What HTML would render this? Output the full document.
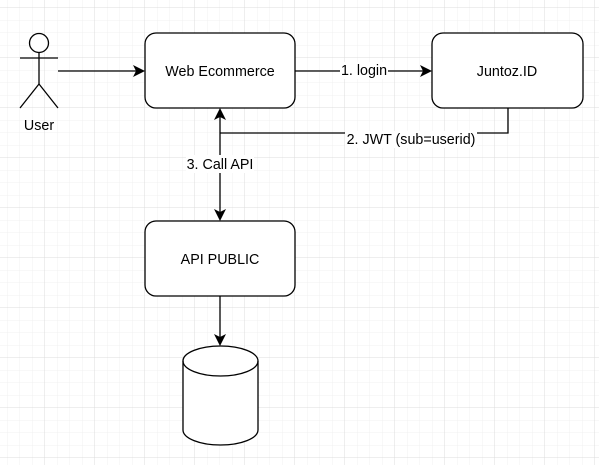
<!DOCTYPE html>
<html><head><meta charset="utf-8"><style>
html,body{margin:0;padding:0;background:#fff;}
svg{display:block;}
text{font-family:"Liberation Sans",Arial,sans-serif;font-size:14.3px;fill:#000;}
</style></head><body>
<svg width="599" height="465" viewBox="0 0 599 465" xmlns="http://www.w3.org/2000/svg">
<defs>
<pattern id="minor" width="12.5" height="12.5" patternUnits="userSpaceOnUse" x="-5" y="-4.5">
<path d="M12.5 0V12.5M0 12.5H12.5" stroke="#f0f0f0" stroke-width="1" fill="none"/>
</pattern>
<pattern id="major" width="50" height="50" patternUnits="userSpaceOnUse" x="-5" y="-42">
<path d="M50 0V50M0 50H50" stroke="#dcdcdc" stroke-width="1" fill="none"/>
</pattern>
</defs>
<rect width="599" height="465" fill="url(#minor)"/>
<rect width="599" height="465" fill="url(#major)"/>
<g stroke="#000" stroke-width="1.3" fill="none">
<circle cx="39" cy="43" r="9.5" fill="#fff"/>
<line x1="39" y1="52.5" x2="39" y2="84"/>
<line x1="20" y1="58" x2="58" y2="58"/>
<line x1="39" y1="84" x2="20" y2="108"/>
<line x1="39" y1="84" x2="58" y2="108"/>
<rect x="145" y="33" width="150" height="75" rx="11" fill="#fff"/>
<rect x="432" y="33" width="151" height="75" rx="11" fill="#fff"/>
<rect x="145" y="221" width="150" height="75" rx="11" fill="#fff"/>
<path d="M183 361 A37.5 15 0 0 1 258 361 V430 A37.5 15 0 0 1 183 430 Z" fill="#fff"/>
<path d="M183 361 A37.5 15 0 0 0 258 361"/>
<line x1="58" y1="71" x2="136" y2="71"/>
<line x1="295" y1="71" x2="423" y2="71"/>
<polyline points="508,108 508,133 220,133"/>
<line x1="220" y1="117" x2="220" y2="212"/>
<line x1="220" y1="296" x2="220" y2="337"/>
</g>
<g fill="#000">
<path d="M145 71 L133 65 L136 71 L133 77 Z"/>
<path d="M432 71 L420 65 L423 71 L420 77 Z"/>
<path d="M220 108 L214 120 L220 117 L226 120 Z"/>
<path d="M220 221 L214 209 L220 212 L226 209 Z"/>
<path d="M220 346 L214 334 L220 337 L226 334 Z"/>
</g>
<rect x="340" y="62" width="48" height="17" fill="#fff"/>
<rect x="345" y="131" width="132" height="17" fill="#fff"/>
<rect x="186" y="155" width="68" height="18" fill="#fff"/>
<text x="39" y="130" text-anchor="middle">User</text>
<text x="220" y="76" text-anchor="middle">Web Ecommerce</text>
<text x="507" y="76" text-anchor="middle">Juntoz.ID</text>
<text x="220" y="264" text-anchor="middle">API PUBLIC</text>
<text x="364" y="75" text-anchor="middle">1. login</text>
<text x="411" y="144" text-anchor="middle">2. JWT (sub=userid)</text>
<text x="220" y="169" text-anchor="middle">3. Call API</text>
</svg>
</body></html>
